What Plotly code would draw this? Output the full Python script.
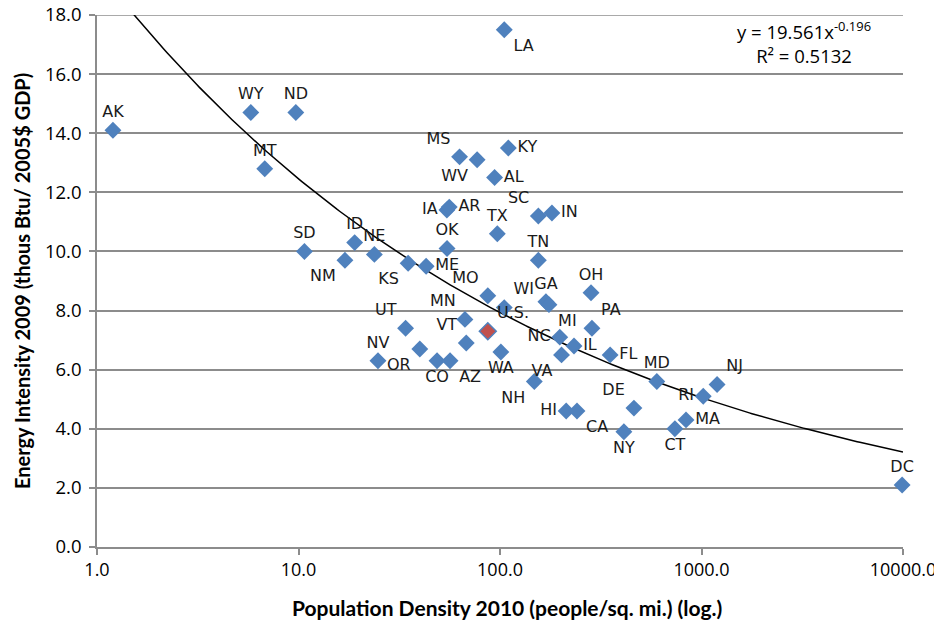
import plotly.graph_objects as go
import numpy as np

states = ["AK","WY","ND","MT","SD","ID","NE","NM","KS","ME","IA","AR","OK","MS","WV","KY","AL","LA","TX",
          "SC","IN","TN","MO","WI","GA","MI","OH","MN","UT","VT","NV","OR","CO","AZ","WA","NC","IL","VA",
          "PA","FL","NH","MD","HI","CA","DE","NY","CT","MA","RI","NJ","DC"]
density = [1.2, 5.8, 9.7, 6.8, 10.7, 19, 23.8, 17, 35, 43, 54.5, 56, 54.6, 63, 77, 110, 94, 105, 97,
           155, 181, 155, 87, 105, 169, 175, 283, 67, 34, 68, 24.8, 40, 48.7, 56.5, 101, 198, 233, 202,
           286, 352, 148, 600, 213, 241, 462, 412, 738, 838, 1020, 1195, 9900]
intensity = [14.1, 14.7, 14.7, 12.8, 10.0, 10.3, 9.9, 9.7, 9.6, 9.5, 11.4, 11.5, 10.1, 13.2, 13.1, 13.5, 12.5, 17.5, 10.6,
             11.2, 11.3, 9.7, 8.5, 8.1, 8.3, 8.2, 8.6, 7.7, 7.4, 6.9, 6.3, 6.7, 6.3, 6.3, 6.6, 7.1, 6.8, 6.5,
             7.4, 6.5, 5.6, 5.6, 4.6, 4.6, 4.7, 3.9, 4.0, 4.3, 5.1, 5.5, 2.1]
label_pos = ["top center","top center","top center","top center","top center","top center","top center","bottom left",
             "bottom left","middle right","middle left","middle right","top center","top left","bottom left","middle right",
             "middle right","bottom right","top center","top left","middle right","top center","top left","top right",
             "top center","bottom right","top center","top left","top left","top left","top center","bottom left",
             "bottom center","bottom right","bottom center","middle left","middle right","bottom left","top right",
             "middle right","bottom left","top center","middle left","bottom right","top left","bottom center",
             "bottom center","middle right","middle left","top right","top center"]

us_density = [87]
us_intensity = [7.3]
us_label = ["U.S."]

fit_a = 19.561
fit_b = -0.196
fit_r2 = 0.5132

x_tickvals = [1, 10, 100, 1000, 10000]
x_ticktext = ["1.0", "10.0", "100.0", "1000.0", "10000.0"]
y_tickvals = [0, 2, 4, 6, 8, 10, 12, 14, 16, 18]

x_title = "Population Density 2010 (people/sq. mi.) (log.)"
y_title = "Energy Intensity 2009 (thous Btu/ 2005$ GDP)"

blue = "#4F81BD"
red = "#C0504D"
grid = "#8C8C8C"
tick_font = "Open Sans, Lato, sans-serif"
title_font = "Lato, Open Sans, sans-serif"

fig = go.Figure()

xf = np.logspace(0, 4, 300)
yf = fit_a * xf ** fit_b
fig.add_trace(go.Scatter(x=xf, y=yf, mode="lines", line=dict(color="black", width=1.5),
                         hoverinfo="skip", showlegend=False))

fig.add_trace(go.Scatter(x=density, y=intensity, mode="markers+text", text=states,
                         textposition=label_pos,
                         textfont=dict(family="DejaVu Sans", size=16, color="#1a1a1a"),
                         marker=dict(symbol="diamond", size=13, color=blue),
                         cliponaxis=False, showlegend=False))

fig.add_trace(go.Scatter(x=us_density, y=us_intensity, mode="markers+text", text=us_label,
                         textposition="top right",
                         textfont=dict(family="DejaVu Sans", size=16, color="#1a1a1a"),
                         marker=dict(symbol="diamond", size=13, color=red,
                                     line=dict(color=blue, width=1.5)),
                         cliponaxis=False, showlegend=False))

# top gridline (at the last y tick) which plotly drops at the range edge
fig.add_shape(type="line", xref="paper", yref="y", x0=0, x1=1,
              y0=y_tickvals[-1], y1=y_tickvals[-1], line=dict(color=grid, width=1.5), layer="below")

fig.add_annotation(xref="paper", yref="paper", x=0.877, y=1.0, xanchor="center", yanchor="top",
                   text=f"y = {fit_a}x<sup>{fit_b}</sup><br>R² = {fit_r2}", showarrow=False,
                   align="center",
                   font=dict(family=tick_font, size=18.5, color="black"))

fig.add_annotation(xref="paper", yref="paper", x=0.509, y=-0.113, xanchor="center", yanchor="middle",
                   text=f"<b>{x_title}</b>", showarrow=False,
                   font=dict(family=title_font, size=21, color="black"))
fig.add_annotation(xref="paper", yref="paper", x=-0.093, y=0.5, xanchor="center", yanchor="middle",
                   text=f"<b>{y_title}</b>", showarrow=False, textangle=-90,
                   font=dict(family=title_font, size=20, color="black"))

fig.update_xaxes(type="log", range=[0, 4], tickvals=x_tickvals, ticktext=x_ticktext,
                 showgrid=False, showline=True, linecolor=grid, linewidth=1.5,
                 ticks="outside", ticklen=6, tickcolor=grid, tickwidth=1.5,
                 tickfont=dict(family=tick_font, size=18, color="black"),
                 ticklabeloverflow="allow",
                 automargin=False, zeroline=False)
fig.update_yaxes(range=[0, 18], tickvals=y_tickvals, tickformat=".1f",
                 showgrid=True, gridcolor=grid, gridwidth=1.5,
                 showline=True, linecolor=grid, linewidth=1.5,
                 ticks="outside", ticklen=6, tickcolor=grid, tickwidth=1.5,
                 tickfont=dict(family=tick_font, size=18.5, color="black"),
                 ticklabelstandoff=4, ticklabeloverflow="allow",
                 automargin=False, zeroline=False)

fig.update_layout(width=942, height=623, margin=dict(l=89, r=47, t=7, b=84),
                  plot_bgcolor="white", paper_bgcolor="white")

fig.write_html("out.html")
